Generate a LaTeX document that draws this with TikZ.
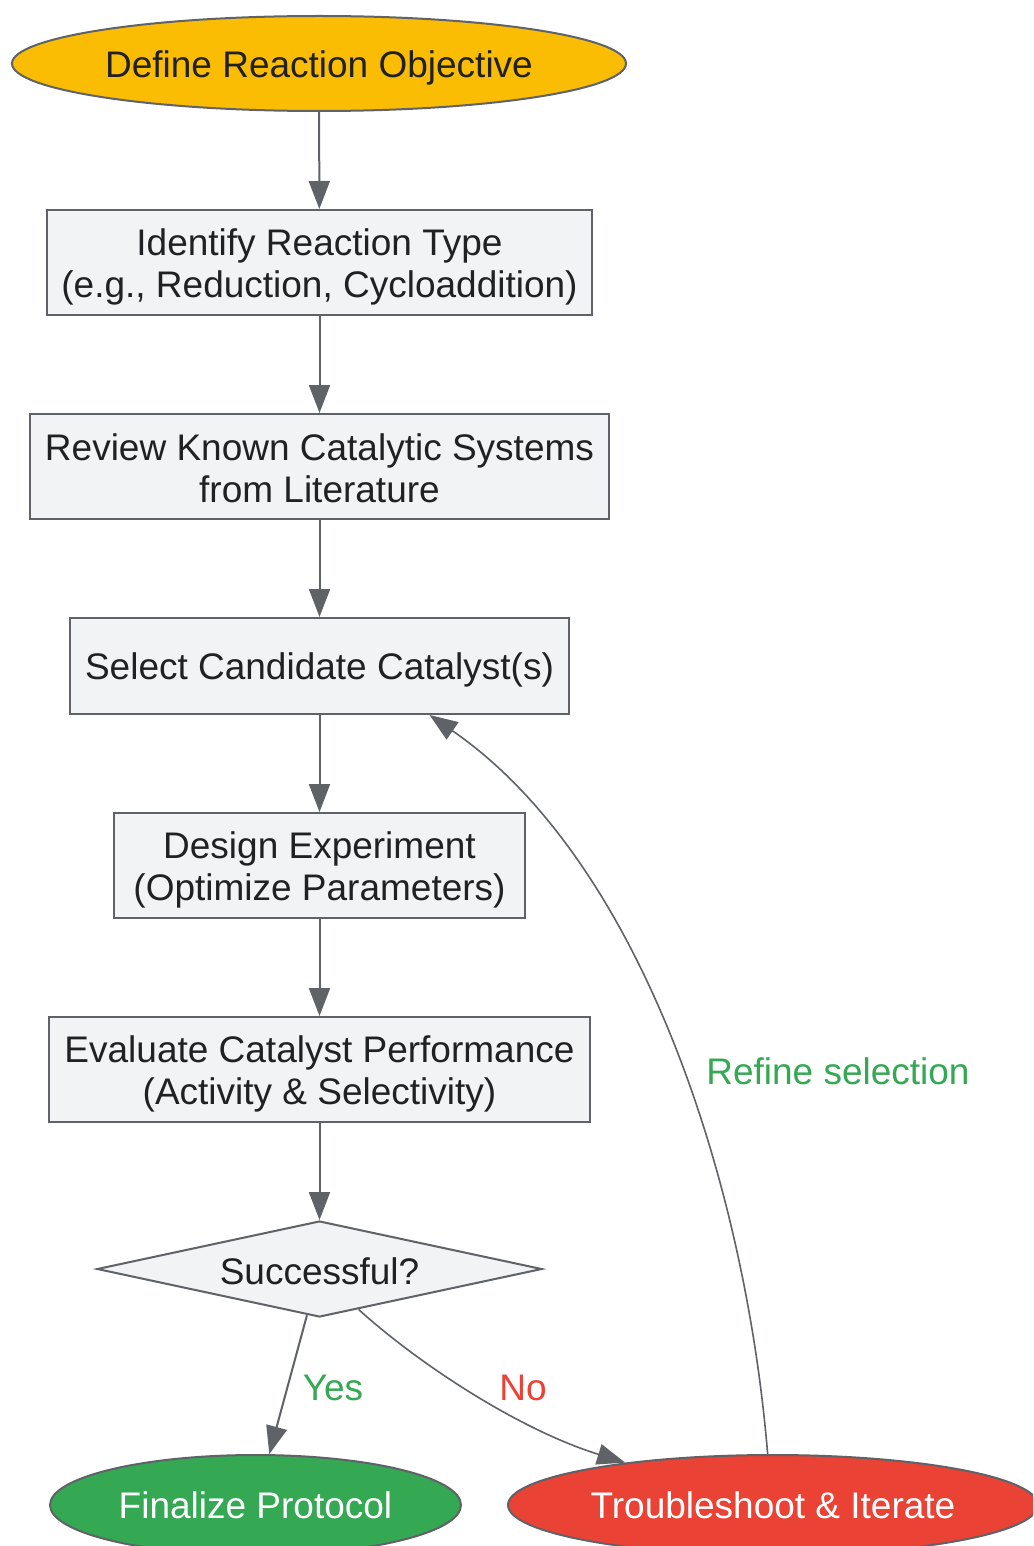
\documentclass[tikz,border=0pt]{standalone}
\usepackage{fontspec}
\setmainfont{Liberation Sans}
\usetikzlibrary{shapes.geometric,arrows.meta}
\definecolor{ln}{HTML}{5F6368}
\definecolor{tx}{HTML}{202124}
\definecolor{bx}{HTML}{F1F3F4}
\definecolor{yel}{HTML}{FBBC04}
\definecolor{grn}{HTML}{34A853}
\definecolor{rd}{HTML}{EA4335}
\newcommand\myup{\rule{0pt}{17.5pt}}
\newcommand\myupd{\rule{0pt}{15.5pt}}
\begin{document}
\begin{tikzpicture}[x=0.5pt,y=-0.5pt,
  every node/.style={font=\fontsize{18.5}{21}\selectfont, text=tx},
  stepbox/.style={draw=ln, line width=1pt, fill=bx, rectangle, align=center, inner sep=0pt},
  term/.style={draw=ln, line width=1pt, ellipse, inner sep=0pt},
  conn/.style={draw=ln, line width=1pt, -{Triangle[length=14pt,width=10.5pt]}},
  curveconn/.style={draw=ln, line width=0.8pt, -{Triangle[length=14pt,width=10.5pt]}}
]
\clip (0,0) rectangle (1033,1546);
\fill[white] (0,0) rectangle (1033,1546);

\node[term, fill=yel, minimum width=307pt, minimum height=47.5pt] (obj) at (319,63.5) {\myup Define Reaction Objective};
\node[stepbox, minimum width=272.5pt, minimum height=52.5pt] (b1) at (319.5,262.5) {\myup Identify Reaction Type\\(e.g., Reduction, Cycloaddition)};
\node[stepbox, minimum width=289.5pt, minimum height=52.5pt] (b2) at (319.5,466.5) {\myupd Review Known Catalytic Systems\\from Literature};
\node[stepbox, minimum width=249.5pt, minimum height=48pt] (b3) at (319.5,666) {\myup Select Candidate Catalyst(s)};
\node[stepbox, minimum width=205.5pt, minimum height=52.5pt] (b4) at (319.5,865.5) {\myup Design Experiment\\(Optimize Parameters)};
\node[stepbox, minimum width=270.5pt, minimum height=52.5pt] (b5) at (319.5,1069.5) {\myup Evaluate Catalyst Performance\\(Activity \& Selectivity)};
\node[draw=ln, line width=1pt, fill=bx, diamond, aspect=4.64, inner sep=0pt, minimum width=222.5pt, minimum height=48pt] (dia) at (319.5,1269) {\myupd Successful?};
\node[term, fill=grn, text=white, minimum width=205.5pt, minimum height=50pt] (fin) at (255.5,1505) {Finalize Protocol};
\node[term, fill=rd, text=white, minimum width=265pt, minimum height=50pt] (tr) at (773,1505) {Troubleshoot \& Iterate};

\draw[conn] (obj) -- (b1);
\draw[conn] (b1) -- (b2);
\draw[conn] (b2) -- (b3);
\draw[conn] (b3) -- (b4);
\draw[conn] (b4) -- (b5);
\draw[conn] (b5) -- (dia);
\draw[conn] (dia) -- (fin);
\draw[curveconn] (dia.-46) .. controls (420,1365) and (520,1430) .. (tr.164);
\draw[curveconn] (tr.96) .. controls (745,1180) and (640,860) .. (b3.-24);

\node[text=grn] (yes) at (333,1388) {Yes};
\node[text=rd] (no) at (523,1388) {No};
\node[text=grn] (refine) at (838,1071) {Refine selection};
\end{tikzpicture}
\end{document}
